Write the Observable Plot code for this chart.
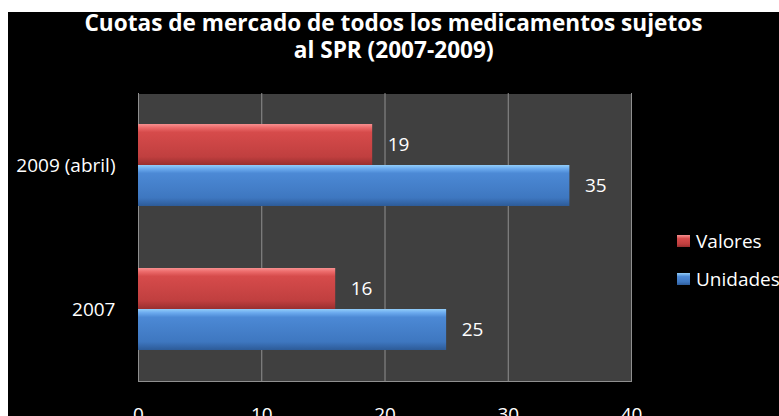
<!DOCTYPE html>
<html>
<head>
<meta charset="utf-8">
<script src="https://cdn.jsdelivr.net/npm/d3@7"></script>
<script src="https://cdn.jsdelivr.net/npm/@observablehq/plot@0.6"></script>
<style>
  html, body { margin: 0; padding: 0; background: #fff; width: 779px; height: 416px; overflow: hidden; }
  #bg { position: absolute; left: 8px; top: 12px; width: 771px; height: 404px; background: #000; }
  .tline { position: absolute; left: 8px; width: 771px; text-align: center; color: #fff;
    font-family: "Open Sans", sans-serif; font-weight: 700; font-size: 23px; line-height: 23px; height: 23px; }
  .tline span { display: inline-block; white-space: nowrap; transform-origin: center; }
  #plot { position: absolute; left: 0; top: 80px; }
  #legend { position: absolute; left: 677px; top: 0; color: #fff; font-family: "Open Sans", sans-serif; font-size: 19px; }
  .item { position: absolute; white-space: nowrap; display: flex; align-items: center; }
  .sw { width: 13px; height: 12px; margin-right: 6px; }
</style>
</head>
<body>
<svg width="0" height="0" style="position:absolute">
  <defs>
    <linearGradient id="gR" x1="0" y1="0" x2="0" y2="1">
      <stop offset="0" stop-color="#f79090"/>
      <stop offset="0.09" stop-color="#ec6a6a"/>
      <stop offset="0.2" stop-color="#d64b4b"/>
      <stop offset="0.8" stop-color="#c03f3f"/>
      <stop offset="1" stop-color="#992f2f"/>
    </linearGradient>
    <linearGradient id="gB" x1="0" y1="0" x2="0" y2="1">
      <stop offset="0" stop-color="#92cdf9"/>
      <stop offset="0.09" stop-color="#6cabef"/>
      <stop offset="0.2" stop-color="#4c89d5"/>
      <stop offset="0.8" stop-color="#3e77c0"/>
      <stop offset="1" stop-color="#2d5b98"/>
    </linearGradient>
  </defs>
</svg>
<div id="bg"></div>
<div class="tline" style="top:11px"><span id="t1">Cuotas de mercado de todos los medicamentos sujetos</span></div>
<div class="tline" style="top:38px"><span id="t2">al SPR (2007-2009)</span></div>
<div id="plot"></div>
<div id="legend"></div>
<script>
const categories = ["2009 (abril)", "2007"];
const series = ["Valores", "Unidades"];
const valores = [19, 16];
const unidades = [35, 25];
const xTicks = [0, 10, 20, 30, 40];
const seriesFills = ["url(#gR)", "url(#gB)"];

const data = categories.flatMap((c, i) => [
  {cat: c, series: series[0], value: valores[i]},
  {cat: c, series: series[1], value: unidades[i]}
]);

// fit title width like the original narrow font
const t1 = document.getElementById("t1");
const t2 = document.getElementById("t2");
const s = 618 / t1.getBoundingClientRect().width;
t1.style.transform = `scaleX(${s})`;
t2.style.transform = `scaleX(${s})`;

const chart = Plot.plot({
  width: 779,
  height: 336,
  marginLeft: 138,
  marginRight: 148,
  marginTop: 13,
  marginBottom: 35,
  style: {background: "transparent", color: "#fff", fontFamily: "Open Sans, sans-serif", fontSize: "19px", overflow: "visible"},
  x: {domain: [0, 40], ticks: xTicks, tickSize: 0, tickPadding: 26, label: null},
  y: {domain: series, axis: null, paddingInner: 0, paddingOuter: 0.75},
  fy: {domain: categories, axis: "left", padding: 0, label: null, tickSize: 0, tickPadding: 23},
  color: {type: "ordinal", domain: series, range: seriesFills},
  marks: [
    Plot.frame({fill: "#404040", shapeRendering: "crispEdges"}),
    Plot.ruleX(xTicks, {stroke: "#8f8f8f", strokeWidth: 1}),
    Plot.frame({anchor: "bottom", stroke: "#8f8f8f", fy: [categories[categories.length - 1]]}),
    Plot.barX(data, {x: "value", y: "series", fy: "cat", fill: "series",
      style: {filter: "drop-shadow(2px 3px 2px rgba(0,0,0,0.55))"}}),
    Plot.text(data, {x: "value", y: "series", fy: "cat", text: d => String(d.value),
      dx: 15, textAnchor: "start", fill: "#fff", fontSize: 19})
  ]
});
document.getElementById("plot").appendChild(chart);

const legend = document.getElementById("legend");
const legendTops = [228, 266];
series.forEach((name, i) => {
  const it = document.createElement("div");
  it.className = "item";
  it.style.top = legendTops[i] + "px";
  const sw = document.createElement("div");
  sw.className = "sw";
  sw.style.background = i === 0
    ? "linear-gradient(#f79090, #d64b4b 30%, #c03f3f 75%, #992f2f)"
    : "linear-gradient(#92cdf9, #4c89d5 30%, #3e77c0 75%, #2d5b98)";
  const tx = document.createElement("span");
  tx.textContent = name;
  it.appendChild(sw);
  it.appendChild(tx);
  legend.appendChild(it);
});
</script>
</body>
</html>
